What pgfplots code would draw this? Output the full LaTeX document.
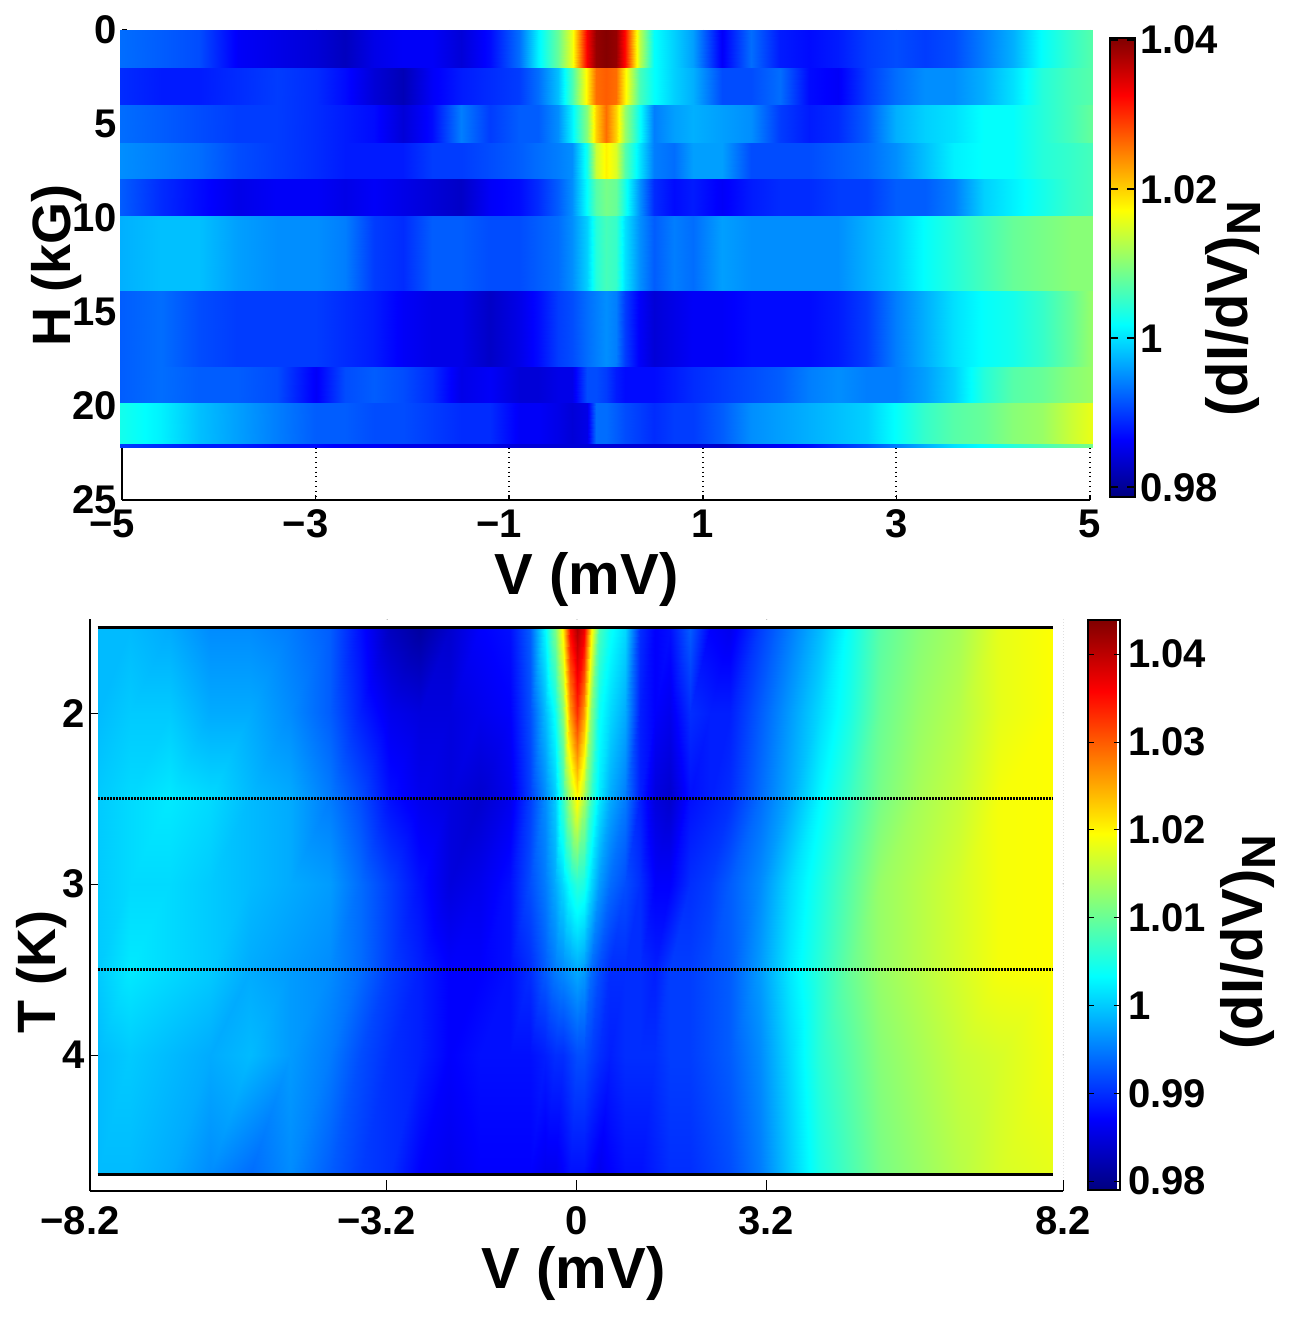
\documentclass[border=0pt]{standalone}
\usepackage{pgfplots}
\usepackage{pgfplotstable}
\usepackage{fontspec}
\setmainfont{Liberation Sans}
\pgfplotsset{compat=1.18}

% top panel: one column per field
\pgfplotstableread{
V c0 c2 c4 c6 c8 c10 c14 c18 c20 cS
-5.02 0.993 0.989 0.993 0.995 0.992 0.997 0.992 0.992 1.003 0.990
-4.6 0.992 0.988 0.992 0.994 0.989 0.998 0.993 0.993 1.001 0.989
-4.2 0.991 0.988 0.991 0.993 0.987 0.998 0.991 0.992 0.998 0.988
-3.8 0.986 0.989 0.990 0.991 0.985 0.996 0.990 0.992 0.996 0.988
-3.4 0.985 0.990 0.990 0.990 0.986 0.995 0.990 0.991 0.994 0.987
-3.0 0.984 0.989 0.989 0.989 0.986 0.995 0.990 0.986 0.992 0.987
-2.7 0.9825 0.987 0.988 0.988 0.985 0.994 0.989 0.991 0.992 0.986
-2.4 0.985 0.984 0.987 0.988 0.986 0.990 0.988 0.992 0.991 0.986
-2.1 0.986 0.982 0.984 0.988 0.985 0.989 0.986 0.991 0.991 0.985
-1.8 0.986 0.986 0.987 0.990 0.984 0.992 0.985 0.989 0.990 0.985
-1.5 0.984 0.988 0.994 0.990 0.983 0.992 0.985 0.985 0.989 0.985
-1.2 0.987 0.989 0.990 0.991 0.986 0.991 0.983 0.986 0.989 0.985
-0.9 0.993 0.990 0.992 0.992 0.987 0.991 0.985 0.984 0.986 0.984
-0.7 1.001 0.993 0.992 0.993 0.989 0.992 0.987 0.984 0.986 0.984
-0.5 1.008 0.998 0.995 0.994 0.992 0.993 0.990 0.985 0.985 0.984
-0.35 1.016 1.006 1.001 0.995 0.995 0.995 0.991 0.985 0.984 0.984
-0.2 1.033 1.018 1.010 1.003 1.002 0.999 0.993 0.991 0.985 0.984
-0.1 1.039 1.026 1.020 1.014 1.007 1.004 0.994 0.991 0.993 0.984
0 1.040 1.027 1.026 1.018 1.009 1.006 0.995 0.990 0.993 0.984
0.1 1.039 1.026 1.020 1.015 1.008 1.005 0.994 0.988 0.992 0.984
0.2 1.032 1.018 1.011 1.007 1.003 1.000 0.990 0.987 0.991 0.984
0.35 1.013 1.006 1.002 1.000 0.995 0.995 0.986 0.987 0.990 0.984
0.5 1.002 1.002 0.994 0.994 0.989 0.992 0.984 0.987 0.989 0.984
0.7 0.999 0.999 0.996 0.993 0.987 0.994 0.985 0.988 0.990 0.984
0.9 0.996 0.997 0.997 0.996 0.988 0.993 0.986 0.989 0.990 0.984
1.2 0.986 0.991 0.996 0.996 0.986 0.996 0.986 0.990 0.992 0.983
1.5 0.993 0.991 0.995 0.991 0.988 0.995 0.987 0.991 0.995 0.985
1.8 0.988 0.993 0.990 0.991 0.989 0.995 0.987 0.992 0.996 0.986
2.1 0.987 0.987 0.988 0.991 0.989 0.995 0.987 0.994 0.997 0.987
2.4 0.988 0.986 0.989 0.992 0.990 0.995 0.988 0.995 0.998 0.989
2.7 0.990 0.990 0.992 0.993 0.990 0.997 0.990 0.994 0.999 0.991
3.0 0.991 0.993 0.997 0.995 0.992 0.999 0.994 0.994 1.002 0.994
3.3 0.990 0.995 0.999 0.998 0.992 1.002 0.997 0.996 1.005 0.997
3.6 0.991 0.995 1.000 1.001 0.994 1.004 1.000 0.999 1.007 1.000
3.9 0.994 0.997 1.002 1.002 0.999 1.006 1.002 1.004 1.008 1.002
4.2 0.997 1.000 1.002 1.002 1.001 1.008 1.003 1.007 1.010 1.004
4.5 1.002 1.004 1.004 1.004 1.003 1.009 1.005 1.008 1.011 1.006
4.8 1.005 1.006 1.006 1.005 1.005 1.010 1.008 1.010 1.014 1.008
5.03 1.007 1.007 1.008 1.006 1.006 1.010 1.011 1.011 1.016 1.009
}\datatop

% bottom panel: one column per temperature
\pgfplotstableread{
V t15 t20 t25 t30 t35 t40 t47
-8.07 0.999 0.999 1.000 1.000 1.000 0.999 0.999
-7.53 0.999 1.000 1.001 1.001 1.002 1.000 0.999
-6.85 0.998 1.000 1.002 1.001 1.001 0.999 0.998
-6.18 0.996 0.998 1.001 1.000 1.000 0.998 0.996
-5.51 0.996 0.998 0.999 0.999 0.998 0.999 0.994
-4.83 0.995 0.996 0.998 0.998 0.997 0.997 0.996
-4.16 0.993 0.993 0.995 0.997 0.996 0.995 0.993
-3.65 0.988 0.989 0.992 0.994 0.994 0.992 0.991
-3.15 0.983 0.986 0.988 0.991 0.991 0.990 0.990
-2.64 0.981 0.985 0.986 0.988 0.989 0.989 0.987
-2.13 0.984 0.985 0.985 0.985 0.987 0.987 0.986
-1.63 0.987 0.986 0.984 0.986 0.987 0.988 0.987
-1.12 0.988 0.987 0.986 0.988 0.988 0.988 0.987
-0.78 0.993 0.992 0.991 0.992 0.990 0.988 0.987
-0.53 1.003 0.999 0.996 0.995 0.993 0.989 0.986
-0.36 1.011 1.004 1.000 0.998 0.995 0.990 0.986
-0.23 1.021 1.012 1.007 1.001 0.996 0.990 0.987
-0.11 1.036 1.026 1.014 1.004 0.997 0.991 0.988
0 1.041 1.033 1.020 1.006 0.998 0.992 0.988
0.13 1.037 1.026 1.014 1.005 0.997 0.992 0.988
0.24 1.021 1.012 1.007 1.001 0.994 0.991 0.987
0.38 1.008 1.004 1.002 0.997 0.992 0.990 0.986
0.56 1.004 1.001 0.998 0.994 0.990 0.989 0.987
0.82 1.001 0.998 0.995 0.992 0.990 0.990 0.988
1.07 0.990 0.989 0.989 0.990 0.990 0.990 0.988
1.32 0.987 0.987 0.985 0.987 0.989 0.990 0.989
1.58 0.988 0.986 0.984 0.987 0.991 0.991 0.990
1.91 0.993 0.990 0.988 0.990 0.991 0.991 0.990
2.25 0.987 0.989 0.989 0.991 0.992 0.992 0.991
2.59 0.986 0.989 0.990 0.993 0.993 0.993 0.992
3.09 0.991 0.993 0.994 0.996 0.997 0.996 0.995
3.60 0.995 0.997 0.998 1.001 1.002 1.001 1.000
4.11 0.999 1.001 1.003 1.005 1.006 1.006 1.005
4.61 1.004 1.005 1.007 1.009 1.010 1.009 1.008
5.12 1.009 1.010 1.011 1.013 1.013 1.012 1.011
5.79 1.012 1.013 1.014 1.015 1.015 1.014 1.013
6.47 1.014 1.015 1.016 1.017 1.017 1.016 1.015
7.14 1.018 1.018 1.019 1.019 1.019 1.017 1.017
8.03 1.0195 1.0195 1.0195 1.0195 1.0195 1.019 1.018
}\databot

% each table twice, one after the other: two scanlines of a surf
\pgfplotstablevertcat{\dbltop}{\datatop}
\pgfplotstablevertcat{\dbltop}{\datatop}
\pgfplotstablevertcat{\dblbot}{\databot}
\pgfplotstablevertcat{\dblbot}{\databot}

% \band{table}{y from}{y to}{column at y from}{column at y to}
\newcommand{\band}[5]{
  \addplot[surf, shader=interp, mesh/rows=2, mesh/cols=39,
    point meta={\coordindex<39 ? \thisrow{#4} : \thisrow{#5}}]
    table[x=V, y expr={\coordindex<39 ? #2 : #3}] {#1};
}
\newcommand{\ticklab}{\fontsize{20}{20}\selectfont\bfseries}
\newcommand{\biglab}{\fontsize{29}{29}\selectfont\bfseries}
\newcommand{\dIdV}{(dI/dV)\raisebox{-0.22em}{\fontsize{24}{24}\selectfont N}}

\begin{document}
\begin{tikzpicture}
\useasboundingbox (0,0) rectangle (645pt,659pt);

\begin{axis}[
    at={(61pt,409pt)}, anchor=south west,
    scale only axis, width=484pt, height=235pt,
    xmin=-5, xmax=5, ymin=0, ymax=25, y dir=reverse,
    clip=false,
    axis x line*=bottom, axis y line*=left,
    axis line style={line width=1pt, -},
    colormap/jet,
    point meta min=0.9787, point meta max=1.0403,
    xtick={-5,-3,-1,1,3,5},
    xticklabels={−5\kern10pt,−3\kern10pt,−1\kern10pt,1,3,5},
    ytick={0,5,10,15,20,25},
    yticklabels={0,5,10,15,20,25},
    tick align=inside, major tick length=2.5pt,
    tick style={black, line width=0.8pt},
    xmajorgrids, grid style={black, dotted, line width=1pt},
    tick label style={font=\ticklab},
    xticklabel style={yshift=-1.5pt},
    yticklabel style={xshift=1pt},
    xlabel={V (mV)}, ylabel={H (kG)},
    label style={font=\biglab},
    xlabel style={at={(axis description cs:0.48,-0.17)}, anchor=center},
    ylabel style={at={(axis description cs:-0.068,0.5)}, anchor=center, font=\fontsize{27}{27}\selectfont\bfseries},
    colorbar,
    colorbar style={
      at={(1.0207,0.983)}, anchor=north west,
      width=12.5pt, height=229.5pt,
      ymin=0.9787, ymax=1.0403,
      ytick={0.98,1,1.02,1.04},
      yticklabels={0.98,1,1.02,1.04},
      yticklabel pos=right,
      tick align=inside, major tick length=4pt,
      axis line style={line width=0.9pt},
      tick style={black, line width=0.8pt},
      tick label style={font=\ticklab},
      yticklabel style={xshift=-1pt},
      ylabel={\dIdV},
      ylabel style={at={(axis description cs:4.92,0.41)}, anchor=center, rotate=0, font=\biglab},
    },
]
\band{\dbltop}{0}{2}{c0}{c0}
\band{\dbltop}{2}{4}{c2}{c2}
\band{\dbltop}{4}{6}{c4}{c4}
\band{\dbltop}{6}{7.9}{c6}{c6}
\band{\dbltop}{7.9}{9.9}{c8}{c8}
\band{\dbltop}{9.9}{13.9}{c10}{c10}
\band{\dbltop}{13.9}{17.9}{c14}{c14}
\band{\dbltop}{17.9}{19.85}{c18}{c18}
\band{\dbltop}{19.85}{22}{c20}{c20}
\band{\dbltop}{22}{22.2}{cS}{cS}
\end{axis}

\begin{axis}[
    at={(45pt,63.5pt)}, anchor=south west,
    scale only axis, width=486.5pt, height=286pt,
    xmin=-8.2, xmax=8.2, ymin=1.45, ymax=4.795, y dir=reverse,
    axis x line*=bottom, axis y line*=left,
    axis line style={line width=0.6pt, -},
    colormap/jet,
    point meta min=0.979, point meta max=1.0439,
    xtick={-8.2,-3.2,0,3.2,8.2},
    xticklabels={−8.2\kern10pt,−3.2\kern10pt,0,3.2,8.2},
    ytick={2,3,4},
    yticklabels={2,3,4},
    tick align=inside, major tick length=5.5pt,
    tick style={black, line width=0.5pt},
    tick label style={font=\ticklab},
    xticklabel style={yshift=-4pt},
    yticklabel style={xshift=1pt},
    xlabel={V (mV)}, ylabel={T (K)},
    label style={font=\biglab},
    xlabel style={at={(axis description cs:0.497,-0.145)}, anchor=center},
    ylabel style={at={(axis description cs:-0.05,0.383)}, anchor=center, font=\fontsize{27}{27}\selectfont\bfseries},
    colorbar,
    colorbar style={
      at={(1.0257,0.9983)}, anchor=north west,
      width=16pt, height=285pt,
      ymin=0.979, ymax=1.0439,
      ytick={0.98,0.99,1,1.01,1.02,1.03,1.04},
      yticklabels={0.98,0.99,1,1.01,1.02,1.03,1.04},
      yticklabel pos=right,
      tick align=inside, major tick length=3pt,
      axis line style={line width=0.6pt},
      tick style={black, line width=0.5pt},
      tick label style={font=\ticklab},
      yticklabel style={xshift=0.5pt},
      ylabel={\dIdV},
      ylabel style={at={(axis description cs:5,0.435)}, anchor=center, rotate=0, font=\biglab},
    },
]
\band{\dblbot}{1.5}{2}{t15}{t20}
\band{\dblbot}{2}{2.5}{t20}{t25}
\band{\dblbot}{2.5}{3}{t25}{t30}
\band{\dblbot}{3}{3.5}{t30}{t35}
\band{\dblbot}{3.5}{4}{t35}{t40}
\band{\dblbot}{4}{4.7}{t40}{t47}
% measured sweeps, drawn as dense dots
\addplot[black, line width=1.7pt] coordinates {(-8.07,1.5) (8.03,1.5)};
\addplot[black, line width=1.5pt, dash pattern=on 1.2pt off 0.3pt] coordinates {(-8.07,2.5) (8.03,2.5)};
\addplot[black, line width=1.5pt, dash pattern=on 1.2pt off 0.3pt] coordinates {(-8.07,3.5) (8.03,3.5)};
\addplot[black, line width=1.7pt] coordinates {(-8.07,4.7) (8.03,4.7)};
% dotted right edge of the box, with its small ticks, and small ticks along the top
\draw[black, line width=0.5pt, densely dotted] (axis cs:8.2,1.45) -- (axis cs:8.2,4.795);
\draw[black, line width=0.5pt] (axis cs:8.2,2) -- ++(-2pt,0) (axis cs:8.2,3) -- ++(-2pt,0) (axis cs:8.2,4) -- ++(-2pt,0);
\draw[black, line width=0.5pt] (axis cs:-3.2,1.45) -- ++(0,-1.5pt) (axis cs:0,1.45) -- ++(0,-1.5pt) (axis cs:3.2,1.45) -- ++(0,-1.5pt);
\end{axis}
\end{tikzpicture}
\end{document}
